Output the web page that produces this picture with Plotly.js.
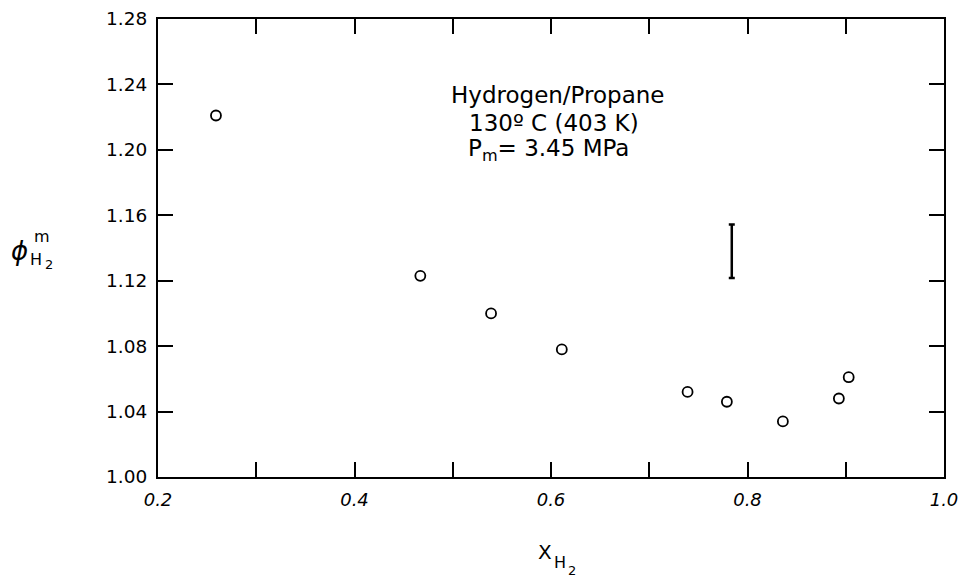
<!DOCTYPE html>
<html>
<head>
<meta charset="utf-8">
<script src="https://cdn.plot.ly/plotly-3.0.1.min.js"></script>
<style>html,body{margin:0;padding:0;background:#fff;}#chart{width:962px;height:579px;}</style>
</head>
<body>
<div id="chart"></div>
<script>
// Data
var xH2 = [0.259, 0.467, 0.539, 0.611, 0.739, 0.779, 0.836, 0.893, 0.903];
var phiH2 = [1.221, 1.123, 1.100, 1.078, 1.052, 1.046, 1.034, 1.048, 1.061];

// Representative error bar
var errX = [0.784];
var errY = [1.138];
var errHalf = [0.0163];

var xTickVals = [0.2, 0.4, 0.6, 0.8, 1.0];
var xTickText = ['0.2', '0.4', '0.6', '0.8', '1.0'];
var yTickVals = [1.00, 1.04, 1.08, 1.12, 1.16, 1.20, 1.24, 1.28];
var yTickText = ['1.00', '1.04', '1.08', '1.12', '1.16', '1.20', '1.24', '1.28'];

var FONT = 'DejaVu Sans, Liberation Sans, Arial, sans-serif';

var L = 158, R = 18, T = 19, B = 102, W = 962, H = 579;
var pw = W - L - R, ph = H - T - B;
function px(x) { return (x - L) / pw; }
function py(y) { return (H - B - y) / ph; }

var traces = [
  {
    type: 'scatter', mode: 'markers', x: xH2, y: phiH2,
    marker: {symbol: 'circle-open', size: 10, color: '#000', line: {width: 1.8, color: '#000'}},
    showlegend: false, hoverinfo: 'skip'
  },
  {
    type: 'scatter', mode: 'markers', x: errX, y: errY,
    marker: {size: 1, opacity: 0},
    error_y: {type: 'data', array: errHalf, visible: true, color: '#000', thickness: 2.5, width: 3},
    showlegend: false, hoverinfo: 'skip'
  }
];

function ann(text, x, y, size, extra) {
  var a = {text: text, xref: 'paper', yref: 'paper', x: px(x), y: py(y),
    xanchor: 'center', yanchor: 'middle', showarrow: false,
    font: {family: FONT, size: size, color: '#000'}};
  if (extra) for (var k in extra) a[k] = extra[k];
  return a;
}

var layout = {
  width: W, height: H,
  margin: {l: L, r: R, t: T, b: B, pad: 0},
  paper_bgcolor: '#fff', plot_bgcolor: '#fff',
  font: {family: FONT, color: '#000'},
  showlegend: false,
  xaxis: {
    range: [0.2, 1.0], tickmode: 'array', tickvals: xTickVals, ticktext: xTickText,
    ticks: 'inside', ticklen: 15, tickwidth: 2, tickcolor: '#000',
    minor: {tickmode: 'array', tickvals: [0.3, 0.5, 0.7, 0.9], ticks: 'inside', ticklen: 15, tickwidth: 2, tickcolor: '#000', showgrid: false},
    showline: true, linewidth: 2, linecolor: '#000', mirror: 'ticks',
    showgrid: false, zeroline: false,
    tickfont: {family: FONT, size: 18, color: '#000', style: 'italic'},
    ticklabelstandoff: 5
  },
  yaxis: {
    range: [1.00, 1.28], tickmode: 'array', tickvals: yTickVals, ticktext: yTickText,
    ticks: 'inside', ticklen: 15, tickwidth: 2, tickcolor: '#000',
    showline: true, linewidth: 2, linecolor: '#000', mirror: 'ticks',
    showgrid: false, zeroline: false,
    tickfont: {family: FONT, size: 18.5, color: '#000'},
    ticklabelstandoff: 5
  },
  annotations: [
    ann('Hydrogen/Propane', 558, 95, 23),
    ann('130\u00ba C (403 K)', 554, 123, 23),
    ann('P<sub>m</sub>= 3.45 MPa', 548, 150, 23),
    // x-axis title: X with subscript H2
    ann('X', 545, 552, 20),
    ann('H', 560, 562, 16),
    ann('2', 572, 570, 13),
    // y-axis title: phi with superscript m, subscript H2
    ann('\u03d5', 19, 251, 26, {font: {family: FONT, size: 26, color: '#000', style: 'italic'}}),
    ann('m', 42, 236, 16),
    ann('H', 36, 259, 16),
    ann('2', 49, 264, 13)
  ]
};

Plotly.newPlot('chart', traces, layout, {displayModeBar: false, staticPlot: true});
</script>
</body>
</html>
